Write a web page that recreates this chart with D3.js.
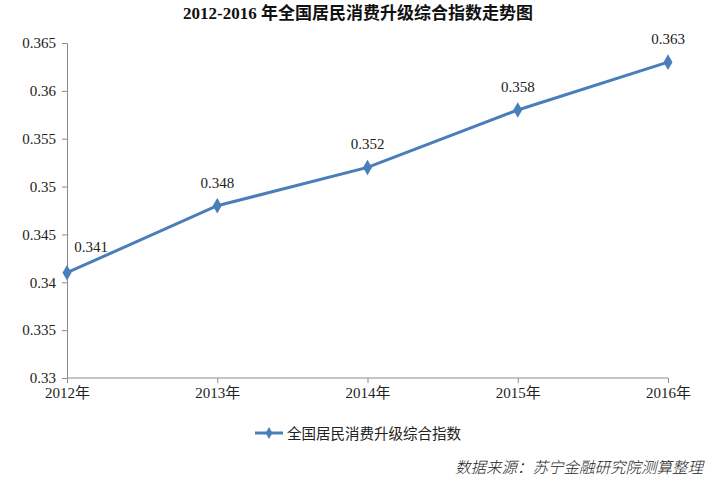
<!DOCTYPE html>
<html><head><meta charset="utf-8">
<script src="https://cdn.jsdelivr.net/npm/d3@7"></script>
<style>body{margin:0;background:#fff}svg{display:block}
.num{font-family:"Liberation Serif","DejaVu Serif",serif}
</style>
</head><body>
<svg id="c" width="715" height="484"></svg>
<script>
const categories = ["2012年","2013年","2014年","2015年","2016年"];
const values = [0.341,0.348,0.352,0.358,0.363];
const yTicks = [0.33,0.335,0.34,0.345,0.35,0.355,0.36,0.365];
const yTickLabels = ["0.33","0.335","0.34","0.345","0.35","0.355","0.36","0.365"];
const seriesName = "全国居民消费升级综合指数";
const title = "2012-2016 年全国居民消费升级综合指数走势图";
const source = "数据来源：苏宁金融研究院测算整理";

const svg = d3.select("#c");
const color = "#4a7ebb", axisC = "#8c8c8c";
const serif = '"Liberation Serif", "Noto Sans CJK SC", serif';
const x = d3.scalePoint().domain(categories).range([67,668]);
const y = d3.scaleLinear().domain([0.33,0.365]).range([378,43]);

svg.append("text").attr("x",358).attr("y",19).attr("text-anchor","middle")
  .style("font-family",serif).style("font-weight","bold").style("font-size","17px")
  .attr("fill","#111").text(title);

const ya = svg.append("g").attr("transform","translate(67,0)")
  .call(d3.axisLeft(y).tickValues(yTicks).tickFormat((d,i)=>yTickLabels[i]).tickSize(5).tickPadding(6));
ya.attr("font-family",null);
ya.select(".domain").attr("stroke",axisC);
ya.selectAll("line").attr("stroke",axisC);
ya.selectAll("text").style("font-family",serif).style("font-size","15px").attr("fill","#222");

const xa = svg.append("g").attr("transform","translate(0,378)")
  .call(d3.axisBottom(x).tickSize(5).tickSizeOuter(0).tickPadding(4));
xa.attr("font-family",null);
xa.select(".domain").attr("stroke",axisC).attr("d","M67,0H668");
xa.selectAll("line").attr("stroke",axisC);
xa.selectAll("text").style("font-family",serif).style("font-size","15px").attr("fill","#222");

const line = d3.line().x((d,i)=>x(categories[i])).y(d=>y(d));
svg.append("path").datum(values).attr("d",line).attr("fill","none").attr("stroke",color).attr("stroke-width",3);

const diamond = d3.symbol().type(d3.symbolDiamond).size(70);
svg.selectAll(".pt").data(values).enter().append("path")
  .attr("transform",(d,i)=>`translate(${x(categories[i])},${y(d)})`).attr("d",diamond).attr("fill",color);

svg.selectAll(".lbl").data(values).enter().append("text")
  .attr("x",(d,i)=>x(categories[i]) + (i===0?24:0))
  .attr("y",(d,i)=>y(d) - (i===0?21:18))
  .attr("text-anchor","middle").style("font-family",serif).style("font-size","15px").attr("fill","#222")
  .text(d=>d.toFixed(3));

// legend
const lg = svg.append("g");
lg.append("line").attr("x1",255).attr("x2",283).attr("y1",433).attr("y2",433).attr("stroke",color).attr("stroke-width",3);
lg.append("path").attr("transform","translate(269,433)").attr("d",d3.symbol().type(d3.symbolDiamond).size(40)).attr("fill",color);
lg.append("text").attr("x",287).attr("y",439).style("font-family",'"Noto Sans CJK SC", sans-serif').style("font-size","14.5px").attr("fill","#222").text(seriesName);

svg.append("text").attr("x",703).attr("y",473).attr("text-anchor","end")
  .style("font-family",'"Noto Sans CJK SC", sans-serif').style("font-style","italic").style("font-weight","300").style("font-size","15.5px").attr("fill","#222").text(source);
</script>
</body></html>
